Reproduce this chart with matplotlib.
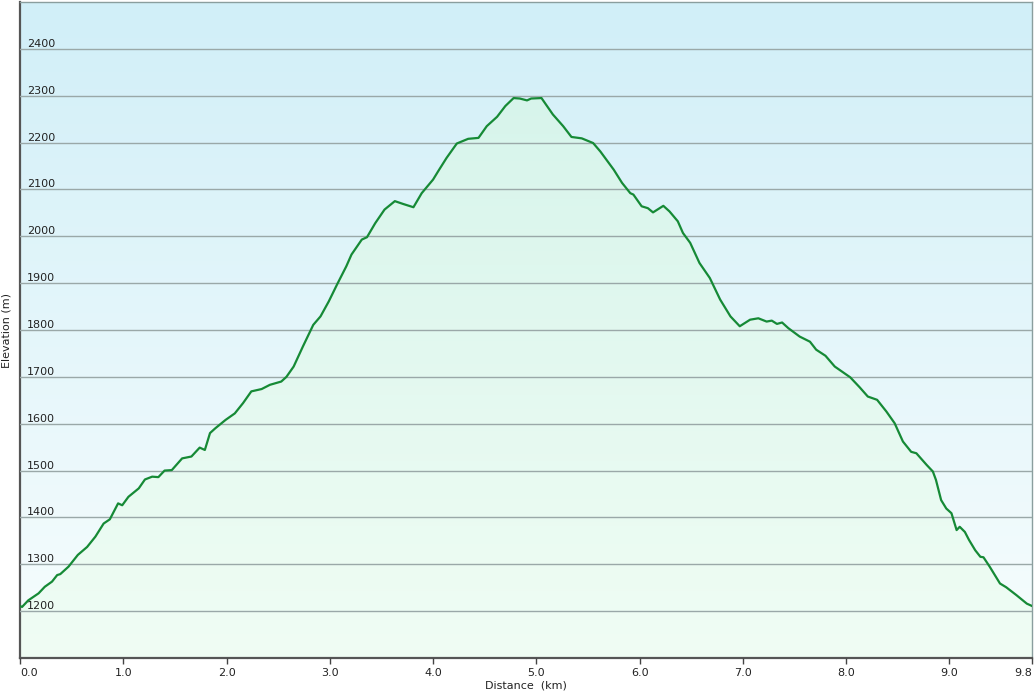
import numpy as np
import matplotlib
matplotlib.use('Agg')
from matplotlib import pyplot as plt
from matplotlib.patches import Polygon
from matplotlib.colors import to_rgb

plt.rcParams['font.family'] = ['DejaVu Sans']

# distance (km) and elevation (m)
dist = [0.00, 0.02, 0.08, 0.18, 0.24, 0.31, 0.36, 0.39, 0.47, 0.56, 0.65, 0.73, 0.81, 0.87,
        0.95, 0.99, 1.05, 1.15, 1.21, 1.28, 1.34, 1.40, 1.47, 1.57, 1.66, 1.74, 1.79, 1.84,
        1.89, 1.99, 2.08, 2.16, 2.24, 2.34, 2.42, 2.53, 2.58, 2.65, 2.74, 2.84, 2.91, 2.99,
        3.07, 3.16, 3.21, 3.31, 3.36, 3.44, 3.53, 3.63, 3.71, 3.81, 3.89, 4.00, 4.05, 4.13,
        4.23, 4.34, 4.44, 4.52, 4.62, 4.70, 4.78, 4.84, 4.91, 4.95, 5.05, 5.16, 5.26, 5.34,
        5.44, 5.55, 5.62, 5.75, 5.83, 5.91, 5.94, 6.02, 6.08, 6.13, 6.23, 6.29, 6.37, 6.42,
        6.49, 6.58, 6.68, 6.78, 6.88, 6.97, 7.07, 7.15, 7.23, 7.28, 7.33, 7.38, 7.44, 7.55,
        7.65, 7.71, 7.80, 7.89, 8.04, 8.13, 8.21, 8.30, 8.39, 8.47, 8.55, 8.63, 8.68, 8.78,
        8.84, 8.87, 8.92, 8.97, 9.02, 9.07, 9.10, 9.15, 9.19, 9.25, 9.30, 9.33, 9.39, 9.49,
        9.55, 9.65, 9.75, 9.80]
elev = [1211, 1209, 1223, 1238, 1252, 1263, 1277, 1279, 1295, 1320, 1337, 1359, 1387, 1396,
        1430, 1426, 1444, 1462, 1481, 1487, 1486, 1500, 1501, 1526, 1530, 1549, 1544, 1580,
        1590, 1608, 1622, 1644, 1669, 1674, 1683, 1690, 1700, 1722, 1765, 1811, 1829, 1861,
        1897, 1936, 1961, 1993, 1998, 2028, 2057, 2075, 2069, 2062, 2092, 2121, 2139, 2167,
        2198, 2208, 2210, 2235, 2255, 2278, 2295, 2294, 2290, 2294, 2295, 2260, 2235, 2212,
        2209, 2199, 2181, 2142, 2114, 2092, 2089, 2064, 2060, 2051, 2065, 2053, 2032, 2007,
        1986, 1943, 1911, 1865, 1829, 1808, 1822, 1825, 1818, 1820, 1813, 1816, 1804, 1786,
        1775, 1758, 1745, 1722, 1699, 1678, 1658, 1651, 1626, 1601, 1562, 1540, 1537, 1512,
        1498, 1480, 1437, 1419, 1409, 1373, 1380, 1369, 1352, 1330, 1316, 1315, 1295, 1259,
        1251, 1234, 1216, 1211]

x_ticks = [0, 1, 2, 3, 4, 5, 6, 7, 8, 9, 9.8]
y_ticks = [1200, 1300, 1400, 1500, 1600, 1700, 1800, 1900, 2000, 2100, 2200, 2300, 2400]

xmin, xmax = 0, 9.8
ymin, ymax = 1100, 2500


def vgrad(top, bottom, n=256):
    t = np.linspace(0, 1, n)[:, None]
    c = (1 - t) * np.array(to_rgb(top)) + t * np.array(to_rgb(bottom))
    return c[:, None, :]


fig = plt.figure(figsize=(10.36, 7), dpi=100)
ax = fig.add_axes([20 / 1036, 42 / 700, 1012 / 1036, 656 / 700])

ax.imshow(vgrad('#d1eff8', '#f7fdfd'), extent=[xmin, xmax, ymin, ymax],
          aspect='auto', zorder=0, interpolation='bilinear')

poly = Polygon(list(zip(dist, elev)) + [(dist[-1], ymin), (dist[0], ymin)],
               closed=True, facecolor='none', edgecolor='none')
ax.add_patch(poly)
im = ax.imshow(vgrad('#d3f3ea', '#f0fdf4'), extent=[xmin, xmax, ymin, ymax],
               aspect='auto', zorder=1, interpolation='bilinear')
im.set_clip_path(poly)

ax.plot(dist, elev, color='#168a36', lw=1.6, zorder=3, solid_joinstyle='round')

ax.set_xlim(xmin, xmax)
ax.set_ylim(ymin, ymax)

ax.set_yticks(y_ticks)
ax.yaxis.grid(True, color='#9aa8a8', lw=1)
ax.set_axisbelow(False)
for gl in ax.get_ygridlines():
    gl.set_zorder(2)
ax.tick_params(axis='y', length=0, pad=-5, labelsize=8, labelcolor='#222222')
for lbl in ax.get_yticklabels():
    lbl.set_ha('left')
    lbl.set_va('bottom')

ax.set_xticks(x_ticks)
ax.set_xticklabels(['%.1f' % v for v in x_ticks])
ax.tick_params(axis='x', length=4, width=1, color='#444444', pad=3, labelsize=8,
               labelcolor='#222222')
xl = ax.get_xticklabels()
xl[0].set_ha('left')
xl[-1].set_ha('right')

ax.set_xlabel('Distance  (km)', fontsize=8, color='#222222', labelpad=2)
ax.set_ylabel('Elevation (m)', fontsize=8, color='#222222', labelpad=-2)
ax.yaxis.set_label_coords(-8 / 1012, 0.5)

for side in ['left', 'bottom']:
    ax.spines[side].set_color('#555555')
    ax.spines[side].set_linewidth(1.6)
for side in ['top', 'right']:
    ax.spines[side].set_color('#8a9e9e')
    ax.spines[side].set_linewidth(1)

fig.savefig('out.png', dpi=100)
